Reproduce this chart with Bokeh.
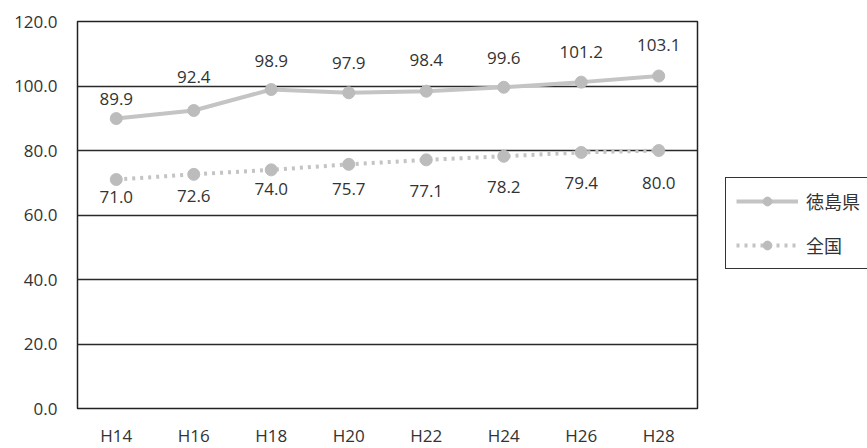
from bokeh.plotting import figure
from bokeh.models import (ColumnDataSource, FactorRange, Range1d, Legend, LegendItem,
                          FixedTicker, CustomJSTickFormatter)
from bokeh.core.properties import value
from bokeh.embed import file_html
from bokeh.resources import INLINE

# --- data -------------------------------------------------------------
years = ["H14", "H16", "H18", "H20", "H22", "H24", "H26", "H28"]
tokushima = [89.9, 92.4, 98.9, 97.9, 98.4, 99.6, 101.2, 103.1]
zenkoku = [71.0, 72.6, 74.0, 75.7, 77.1, 78.2, 79.4, 80.0]
y_ticks = [0, 20, 40, 60, 80, 100, 120]

# label nudges in screen pixels (negative = above the point)
tokushima_label_dy = [-20, -34, -29, -30, -31, -29, -30, -31]
zenkoku_label_dy = [17, 22, 19, 25, 31, 31, 31, 32]

FONT = "Open Sans"
TEXT_COLOR = "#333333"
SERIES_COLOR = "#c4c4c4"
MARKER_COLOR = "#bcbcbc"

src_t = ColumnDataSource(dict(x=years, y=tokushima,
                              label=[f"{v:.1f}" for v in tokushima],
                              dy=tokushima_label_dy))
src_z = ColumnDataSource(dict(x=years, y=zenkoku,
                              label=[f"{v:.1f}" for v in zenkoku],
                              dy=zenkoku_label_dy))

p = figure(frame_width=620, frame_height=387,
           output_backend="svg", toolbar_location=None,
           x_range=FactorRange(*years, range_padding=0),
           y_range=Range1d(0, 120),
           min_border_left=77, min_border_right=0,
           min_border_top=21, min_border_bottom=40)

p.background_fill_color = "white"
p.border_fill_color = "white"
p.outline_line_color = "#222222"
p.outline_line_width = 1.5

# grid
p.xgrid.grid_line_color = None
p.ygrid.grid_line_color = "#2a2a2a"
p.ygrid.grid_line_width = 1.3
p.ygrid.ticker = FixedTicker(ticks=y_ticks)

# axes
p.yaxis.ticker = FixedTicker(ticks=y_ticks)
p.yaxis.formatter = CustomJSTickFormatter(code="return tick.toFixed(1);")
for ax in (p.xaxis[0], p.yaxis[0]):
    ax.axis_line_color = None
    ax.major_tick_line_color = None
    ax.minor_tick_line_color = None
    ax.major_tick_in = 0
    ax.major_tick_out = 0
    ax.major_label_text_font = FONT
    ax.major_label_text_font_size = "17px"
    ax.major_label_text_color = TEXT_COLOR
p.yaxis.major_label_standoff = 20
p.xaxis.major_label_standoff = 15

# series
l_t = p.line("x", "y", source=src_t, line_color=SERIES_COLOR, line_width=4)
m_t = p.scatter("x", "y", source=src_t, size=12, marker="circle",
                fill_color=MARKER_COLOR, line_color=MARKER_COLOR)
l_z = p.line("x", "y", source=src_z, line_color=SERIES_COLOR, line_width=4,
             line_dash="3 5")
m_z = p.scatter("x", "y", source=src_z, size=12, marker="circle",
                fill_color=MARKER_COLOR, line_color=MARKER_COLOR)

# value labels
for src in (src_t, src_z):
    p.text("x", "y", text="label", source=src, y_offset="dy",
           text_align="center", text_baseline="middle",
           text_font=value(FONT), text_font_size="17px", text_color=TEXT_COLOR)

# legend sits in the right-hand panel, beside the frame
legend = Legend(items=[LegendItem(label="徳島県", renderers=[l_t, m_t]),
                       LegendItem(label="全国", renderers=[l_z, m_z])],
                location=(28, 139))
legend.label_text_font = "Noto Sans CJK JP"
legend.label_text_font_size = "18px"
legend.label_text_color = TEXT_COLOR
legend.glyph_width = 62
legend.glyph_height = 22
legend.label_height = 22
legend.label_standoff = 8
legend.padding = 10
legend.spacing = 18
legend.margin = 0
legend.border_line_color = "#333333"
legend.border_line_alpha = 1.0
legend.border_line_width = 1.5
legend.background_fill_color = "white"
legend.background_fill_alpha = 1
p.add_layout(legend, "right")

open("out.html", "w").write(file_html(p, INLINE))
